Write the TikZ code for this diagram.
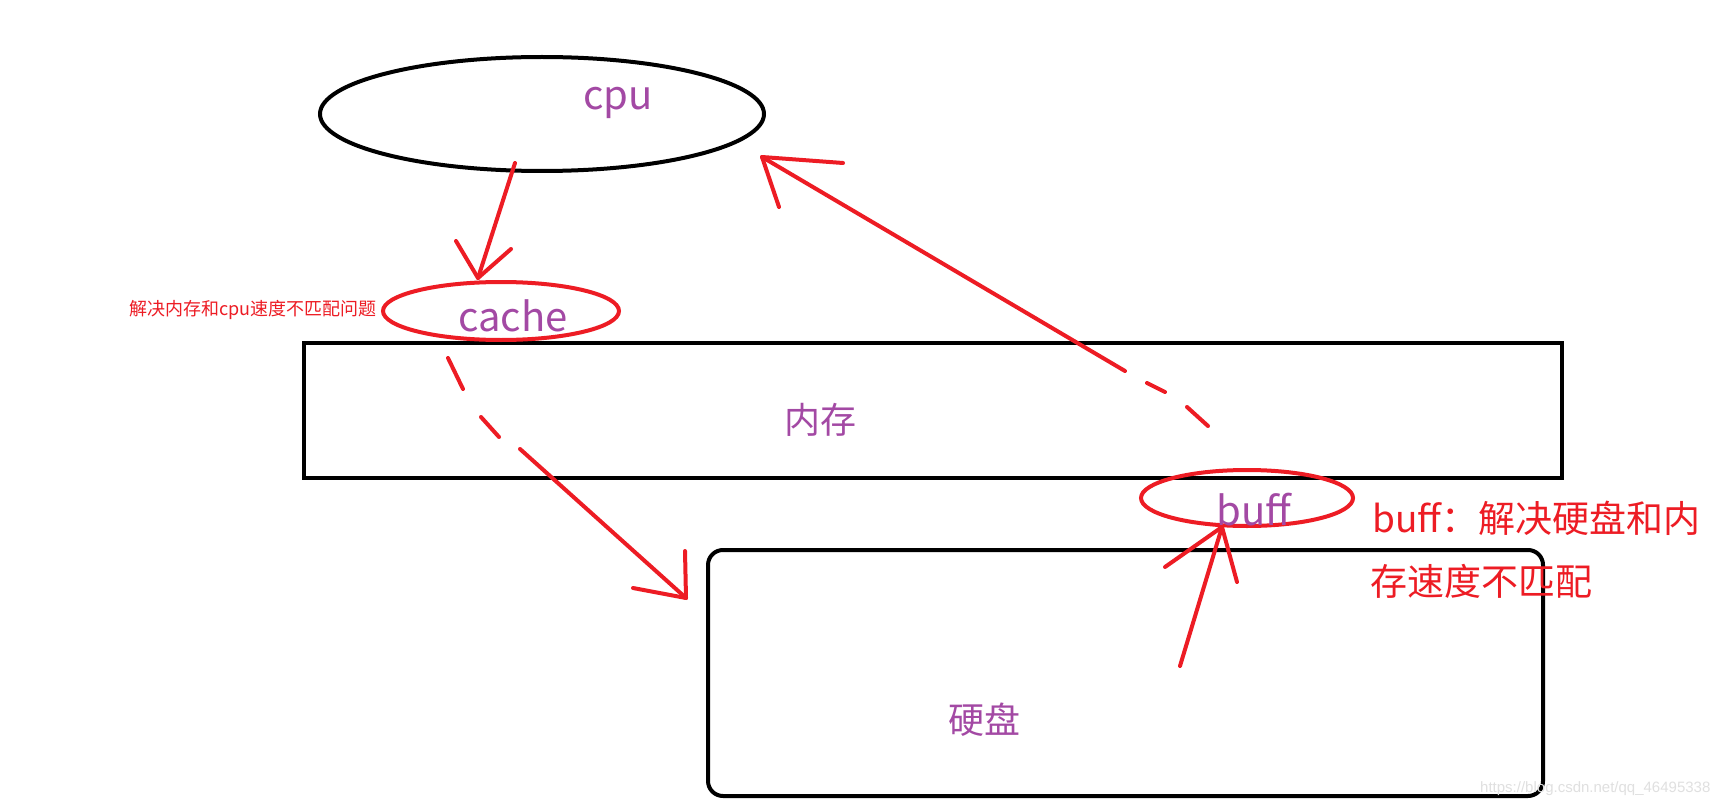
\documentclass[tikz,border=0pt]{standalone}
\usepackage{fontspec}
\usetikzlibrary{shapes.geometric}
\newfontfamily\cjk{Noto Sans CJK SC}
\newfontfamily\wmfont{Liberation Sans}
\definecolor{pred}{HTML}{ED1C24}
\definecolor{ppurple}{HTML}{A349A4}
\begin{document}
\begin{tikzpicture}[x=1pt,y=-1pt,
  blk/.style={draw=black,line width=4pt},
  redl/.style={draw=pred,line width=4pt,line cap=round,line join=round},
  redell/.style={draw=pred,line width=4pt,ellipse,inner sep=0pt},
  lbl/.style={font=\cjk\fontsize{40}{48}\selectfont,text=ppurple,inner sep=0pt},
  cjklbl/.style={font=\cjk\fontsize{36}{44}\selectfont,text=ppurple,inner sep=0pt},
  redbig/.style={font=\cjk\fontsize{37}{44}\selectfont,text=pred,inner sep=0pt,anchor=west},
  redsmall/.style={font=\cjk\fontsize{18}{22}\selectfont,text=pred,inner sep=0pt,anchor=west},
  wm/.style={font=\wmfont\fontsize{15}{18}\selectfont,text=black!12,inner sep=0pt,anchor=base west}]
\useasboundingbox[fill=white] (0,0) rectangle (1732,805);

% boxes
\node[blk,ellipse,minimum width=444pt,minimum height=114pt,inner sep=0pt] (cpu) at (542,114) {};
\node[blk,rectangle,minimum width=1258pt,minimum height=135pt,inner sep=0pt,anchor=north west] (mem) at (302,341) {};
\node[blk,rectangle,rounded corners=15pt,minimum width=835pt,minimum height=246pt,inner sep=0pt,anchor=north west] (disk) at (706,548) {};
\node[redell,minimum width=236pt,minimum height=58pt] (cache) at (501,311) {};
\node[redell,minimum width=212pt,minimum height=56pt] (buff) at (1247,498) {};

% labels
\node[lbl,anchor=base] (cputext) at (618,110) {cpu};
\node[lbl,anchor=base] (cachetext) at (513,331) {cache};
\node[lbl,anchor=base] (bufftext) at (1254,525) {buff};
\node[cjklbl] (memtext) at (820,420) {内存};
\node[cjklbl] (disktext) at (984,720) {硬盘};
\node[redsmall] (cachenote) at (129,310) {解决内存和cpu速度不匹配问题};
\node[redbig] (buffnote1) at (1372,518) {buff：解决硬盘和内};
\node[redbig] (buffnote2) at (1370,581) {存速度不匹配};
\node[wm] (wmark) at (1480,792) {https://blog.csdn.net/qq\_46495338};

% cpu -> cache
\coordinate (a1s) at (515,163);
\coordinate (a1t) at (478,278);
\coordinate (a1l) at (456,241);
\coordinate (a1r) at (511,249);
\draw[redl] (a1s) -- (a1t);
\draw[redl] (a1l) -- (a1t) -- (a1r);

% cache -> disk (dashed start)
\coordinate (a2d1s) at (448,358);
\coordinate (a2d1e) at (463,389);
\coordinate (a2d2s) at (481,417);
\coordinate (a2d2e) at (499,437);
\coordinate (a2s) at (520,449);
\coordinate (a2t) at (686,598);
\coordinate (a2l) at (633,588);
\coordinate (a2r) at (685,551);
\draw[redl] (a2d1s) -- (a2d1e);
\draw[redl] (a2d2s) -- (a2d2e);
\draw[redl] (a2s) -- (a2t);
\draw[redl] (a2l) -- (a2t) -- (a2r);

% disk -> buff
\coordinate (a3s) at (1180,666);
\coordinate (a3t) at (1222,527);
\coordinate (a3l) at (1165,567);
\coordinate (a3r) at (1237,582);
\draw[redl] (a3s) -- (a3t);
\draw[redl] (a3l) -- (a3t) -- (a3r);

% buff -> cpu (dashed start)
\coordinate (a4d1s) at (1208,426);
\coordinate (a4d1e) at (1187,407);
\coordinate (a4d2s) at (1165,392);
\coordinate (a4d2e) at (1147,383);
\coordinate (a4s) at (1125,371);
\coordinate (a4t) at (762,157);
\coordinate (a4l) at (843,163);
\coordinate (a4r) at (779,207);
\draw[redl] (a4d1s) -- (a4d1e);
\draw[redl] (a4d2s) -- (a4d2e);
\draw[redl] (a4s) -- (a4t);
\draw[redl] (a4l) -- (a4t) -- (a4r);
\end{tikzpicture}
\end{document}
